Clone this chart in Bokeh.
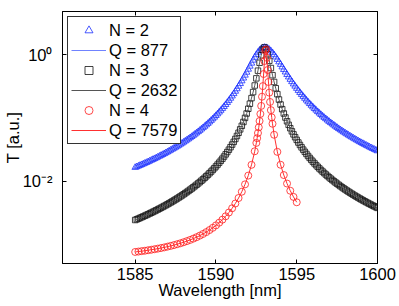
from bokeh.plotting import figure
from bokeh.models import FixedTicker, LinearAxis, LogAxis, CustomJSTickFormatter
from bokeh.embed import file_html
from bokeh.resources import INLINE

# ---- data ----
wl_grid = [1585.0, 1585.1, 1585.2, 1585.3, 1585.4, 1585.5, 1585.6, 1585.7, 1585.8, 1585.9,
           1586.0, 1586.1, 1586.2, 1586.3, 1586.4, 1586.5, 1586.6, 1586.7, 1586.8, 1586.9,
           1587.0, 1587.1, 1587.2, 1587.3, 1587.4, 1587.5, 1587.6, 1587.7, 1587.8, 1587.9,
           1588.0, 1588.1, 1588.2, 1588.3, 1588.4, 1588.5, 1588.6, 1588.7, 1588.8, 1588.9,
           1589.0, 1589.1, 1589.2, 1589.3, 1589.4, 1589.5, 1589.6, 1589.7, 1589.8, 1589.9,
           1590.0, 1590.1, 1590.2, 1590.3, 1590.4, 1590.5, 1590.6, 1590.7, 1590.8, 1590.9,
           1591.0, 1591.1, 1591.2, 1591.3, 1591.4, 1591.5, 1591.6, 1591.7, 1591.8, 1591.9,
           1592.0, 1592.1, 1592.2, 1592.3, 1592.4, 1592.5, 1592.6, 1592.7, 1592.8, 1592.9,
           1593.0,
           1593.1, 1593.2, 1593.3, 1593.4, 1593.5, 1593.6, 1593.7, 1593.8, 1593.9, 1594.0,
           1594.1, 1594.2, 1594.3, 1594.4, 1594.5, 1594.6, 1594.7, 1594.8, 1594.9, 1595.0,
           1595.1, 1595.2, 1595.3, 1595.4, 1595.5, 1595.6, 1595.7, 1595.8, 1595.9, 1596.0,
           1596.1, 1596.2, 1596.3, 1596.4, 1596.5, 1596.6, 1596.7, 1596.8, 1596.9, 1597.0,
           1597.1, 1597.2, 1597.3, 1597.4, 1597.5, 1597.6, 1597.7, 1597.8, 1597.9, 1598.0,
           1598.1, 1598.2, 1598.3, 1598.4, 1598.5, 1598.6, 1598.7, 1598.8, 1598.9, 1599.0,
           1599.1, 1599.2, 1599.3, 1599.4, 1599.5, 1599.6, 1599.7, 1599.8, 1599.9, 1600.0]

T_n2 = [0.01645, 0.01686, 0.01729, 0.01773, 0.01820, 0.01868, 0.01918, 0.01970, 0.02024, 0.02081,
        0.02140, 0.02201, 0.02265, 0.02332, 0.02402, 0.02475, 0.02551, 0.02631, 0.02715, 0.02803,
        0.02895, 0.02992, 0.03093, 0.03200, 0.03313, 0.03431, 0.03556, 0.03687, 0.03826, 0.03973,
        0.04129, 0.04293, 0.04468, 0.04653, 0.04850, 0.05059, 0.05282, 0.05520, 0.05775, 0.06046,
        0.06338, 0.06650, 0.06986, 0.07347, 0.07736, 0.08156, 0.08611, 0.09103, 0.09638, 0.1022,
        0.1086, 0.1155, 0.1231, 0.1314, 0.1406, 0.1508, 0.1620, 0.1745, 0.1883, 0.2038,
        0.2212, 0.2406, 0.2626, 0.2873, 0.3154, 0.3472, 0.3835, 0.4247, 0.4717, 0.5251,
        0.5857, 0.6540, 0.7301, 0.8137, 0.9034, 0.9963, 1.0878, 1.1714, 1.2395, 1.2843,
        1.30,
        1.2889, 1.2567, 1.2064, 1.1424, 1.0695, 0.9921, 0.9139, 0.8378, 0.7655, 0.6981,
        0.6363, 0.5800, 0.5291, 0.4833, 0.4422, 0.4054, 0.3723, 0.3427, 0.3161, 0.2922,
        0.2707, 0.2513, 0.2338, 0.2179, 0.2035, 0.1904, 0.1785, 0.1676, 0.1576, 0.1484,
        0.1400, 0.1323, 0.1251, 0.1186, 0.1125, 0.1068, 0.1015, 0.09667, 0.09212, 0.08788,
        0.08392, 0.08021, 0.07674, 0.07349, 0.07043, 0.06756, 0.06486, 0.06231, 0.05991, 0.05765,
        0.05550, 0.05348, 0.05156, 0.04974, 0.04801, 0.04637, 0.04481, 0.04333, 0.04192, 0.04058,
        0.03930, 0.03808, 0.03692, 0.03580, 0.03474, 0.03372, 0.03275, 0.03181, 0.03092, 0.03006]

T_n3 = [0.002433, 0.002495, 0.002559, 0.002626, 0.002695, 0.002767, 0.002843, 0.002921, 0.003002, 0.003087,
        0.003176, 0.003268, 0.003365, 0.003466, 0.003571, 0.003682, 0.003797, 0.003919, 0.004046, 0.004179,
        0.004319, 0.004466, 0.004621, 0.004784, 0.004956, 0.005137, 0.005328, 0.005530, 0.005744, 0.005970,
        0.006210, 0.006465, 0.006736, 0.007024, 0.007331, 0.007658, 0.008008, 0.008383, 0.008784, 0.009215,
        0.009677, 0.01018, 0.01071, 0.01130, 0.01193, 0.01261, 0.01336, 0.01417, 0.01506, 0.01603,
        0.01711, 0.01829, 0.01960, 0.02105, 0.02267, 0.02449, 0.02653, 0.02884, 0.03145, 0.03444,
        0.03786, 0.04182, 0.04643, 0.05183, 0.05821, 0.06582, 0.07500, 0.08619, 0.1000, 0.1173,
        0.1393, 0.1677, 0.2053, 0.2557, 0.3250, 0.4216, 0.5571, 0.7429, 0.9750, 1.2000,
        1.30,
        1.2150, 1.0158, 0.7979, 0.6135, 0.4730, 0.3696, 0.2937, 0.2374, 0.1951, 0.1626,
        0.1374, 0.1174, 0.1014, 0.08840, 0.07768, 0.06878, 0.06129, 0.05495, 0.04953, 0.04487,
        0.04083, 0.03731, 0.03422, 0.03149, 0.02908, 0.02693, 0.02501, 0.02329, 0.02174, 0.02033,
        0.01906, 0.01790, 0.01685, 0.01588, 0.01500, 0.01419, 0.01344, 0.01275, 0.01211, 0.01152,
        0.01097, 0.01045, 0.009977, 0.009532, 0.009116, 0.008726, 0.008361, 0.008019, 0.007697, 0.007394,
        0.007108, 0.006839, 0.006584, 0.006344, 0.006117, 0.005901, 0.005697, 0.005503, 0.005319, 0.005143,
        0.004977, 0.004818, 0.004667, 0.004523, 0.004385, 0.004254, 0.004128, 0.004008, 0.003893, 0.003783]

wl_n4 = [1585.0, 1585.2, 1585.4, 1585.6, 1585.8, 1586.0, 1586.2, 1586.4, 1586.6, 1586.8,
         1587.0, 1587.2, 1587.4, 1587.6, 1587.8, 1588.0, 1588.2, 1588.4, 1588.6, 1588.8,
         1589.0, 1589.2, 1589.4, 1589.6, 1589.8, 1590.0, 1590.2, 1590.4, 1590.6, 1590.8,
         1591.0, 1591.2, 1591.4, 1591.6, 1591.8, 1592.0, 1592.2, 1592.4,
         1592.5, 1592.55, 1592.6, 1592.65, 1592.7, 1592.75, 1592.8, 1592.85, 1592.9, 1592.95,
         1593.0, 1593.05, 1593.1, 1593.15, 1593.2, 1593.25, 1593.3, 1593.35, 1593.4, 1593.45,
         1593.5,
         1593.6, 1593.8, 1594.0, 1594.2, 1594.4, 1594.6, 1594.8, 1595.0]

T_n4 = [0.000761, 0.000772, 0.000784, 0.000796, 0.000810, 0.000825, 0.000841, 0.000859, 0.000878, 0.000899,
        0.000923, 0.000949, 0.000977, 0.001009, 0.001044, 0.001084, 0.001129, 0.001179, 0.001237, 0.001302,
        0.001378, 0.001465, 0.001567, 0.001688, 0.001830, 0.002002, 0.002210, 0.002466, 0.002787, 0.003195,
        0.003727, 0.004437, 0.005416, 0.006809, 0.008907, 0.01225, 0.01812, 0.02968,
        0.04022, 0.04776, 0.05763, 0.07089, 0.08922, 0.1155, 0.1546, 0.2161, 0.3178, 0.4939,
        0.7914, 1.156, 1.2106, 0.8903, 0.5713, 0.3695, 0.2506, 0.1785, 0.1326, 0.1021,
        0.08079,
        0.05409, 0.02906, 0.01817, 0.01249, 0.009171, 0.007062, 0.005642, 0.004640]

series_names = ["N = 2", "N = 3", "N = 4"]
fit_names = ["Q = 877", "Q = 2632", "Q = 7579"]

x_ticks = [1585, 1590, 1595, 1600]
y_tick_values = [0.01, 1.0]
y_tick_labels = ["10\u207b\u00b2", "10\u2070"]
x_label = "Wavelength [nm]"
y_label = "T [a.u.]"

FONT = "Liberation Sans"
FS = "16.5px"

p = figure(frame_width=315, frame_height=252, y_axis_type="log",
           x_range=(1580.5, 1600), y_range=(5e-4, 4.8),
           output_backend="svg", toolbar_location=None,
           min_border_left=61, min_border_right=23, min_border_top=11, min_border_bottom=43)

p.xgrid.visible = False
p.ygrid.visible = False
p.outline_line_color = "black"
p.outline_line_width = 1
p.background_fill_color = "white"
p.border_fill_color = "white"

# series (markers + fit lines)
p.scatter(wl_grid, T_n2, marker="triangle", size=6.5, fill_color=None,
          line_color="#1a2fff", line_width=0.8, legend_label=series_names[0])
p.line(wl_grid, T_n2, line_color="#7083ff", line_width=1, legend_label=fit_names[0])
p.scatter(wl_grid, T_n3, marker="square", size=5.5, fill_color=None,
          line_color="#111111", line_width=0.8, legend_label=series_names[1])
p.line(wl_grid, T_n3, line_color="#555555", line_width=1, legend_label=fit_names[1])
p.scatter(wl_n4, T_n4, marker="circle", size=7, fill_color=None,
          line_color="#ff1a1a", line_width=0.8, legend_label=series_names[2])
p.line(wl_n4, T_n4, line_color="#ff3030", line_width=1, legend_label=fit_names[2])

blank = CustomJSTickFormatter(code="return '';")

def style_axis(ax, labels=True):
    ax.major_tick_in = 4
    ax.major_tick_out = 0
    ax.minor_tick_in = 0
    ax.minor_tick_out = 0
    ax.axis_line_color = "black"
    ax.major_tick_line_color = "black"
    ax.major_label_text_font = FONT
    ax.major_label_text_color = "black"
    ax.major_label_text_font_size = FS
    ax.axis_label_text_font = FONT
    ax.axis_label_text_font_style = "normal"
    ax.axis_label_text_font_size = FS
    ax.axis_label_text_color = "black"
    if not labels:
        ax.formatter = blank
        ax.major_label_standoff = 0

xax = p.xaxis[0]
xax.ticker = FixedTicker(ticks=x_ticks, minor_ticks=[])
style_axis(xax)
xax.major_label_standoff = 4
xax.axis_label = x_label
xax.axis_label_standoff = -2

yax = p.yaxis[0]
yax.ticker = FixedTicker(ticks=y_tick_values, minor_ticks=[])
yax.formatter = CustomJSTickFormatter(
    args=dict(vals=y_tick_values, labs=y_tick_labels),
    code="""
    for (let i = 0; i < vals.length; i++) {
        if (Math.abs(Math.log10(vals[i]) - Math.log10(tick)) < 1e-6) return labs[i];
    }
    return '';
    """)
style_axis(yax)
yax.major_label_standoff = 10
yax.axis_label = y_label
yax.axis_label_standoff = -2

top = LinearAxis(ticker=FixedTicker(ticks=x_ticks, minor_ticks=[]))
style_axis(top, labels=False)
p.add_layout(top, "above")

right = LogAxis(ticker=FixedTicker(ticks=y_tick_values, minor_ticks=[]))
style_axis(right, labels=False)
p.add_layout(right, "right")

# legend
lg = p.legend[0]
lg.location = "top_left"
lg.margin = 5
lg.padding = 3
lg.spacing = 0
lg.glyph_width = 35
lg.glyph_height = 20
lg.label_height = 20
lg.label_standoff = 3
lg.label_text_font = FONT
lg.label_text_font_size = FS
lg.label_text_color = "black"
lg.border_line_color = "#333333"
lg.border_line_alpha = 1.0
lg.border_line_width = 1
lg.background_fill_color = "white"
lg.background_fill_alpha = 1.0

open("out.html", "w").write(file_html(p, INLINE))
